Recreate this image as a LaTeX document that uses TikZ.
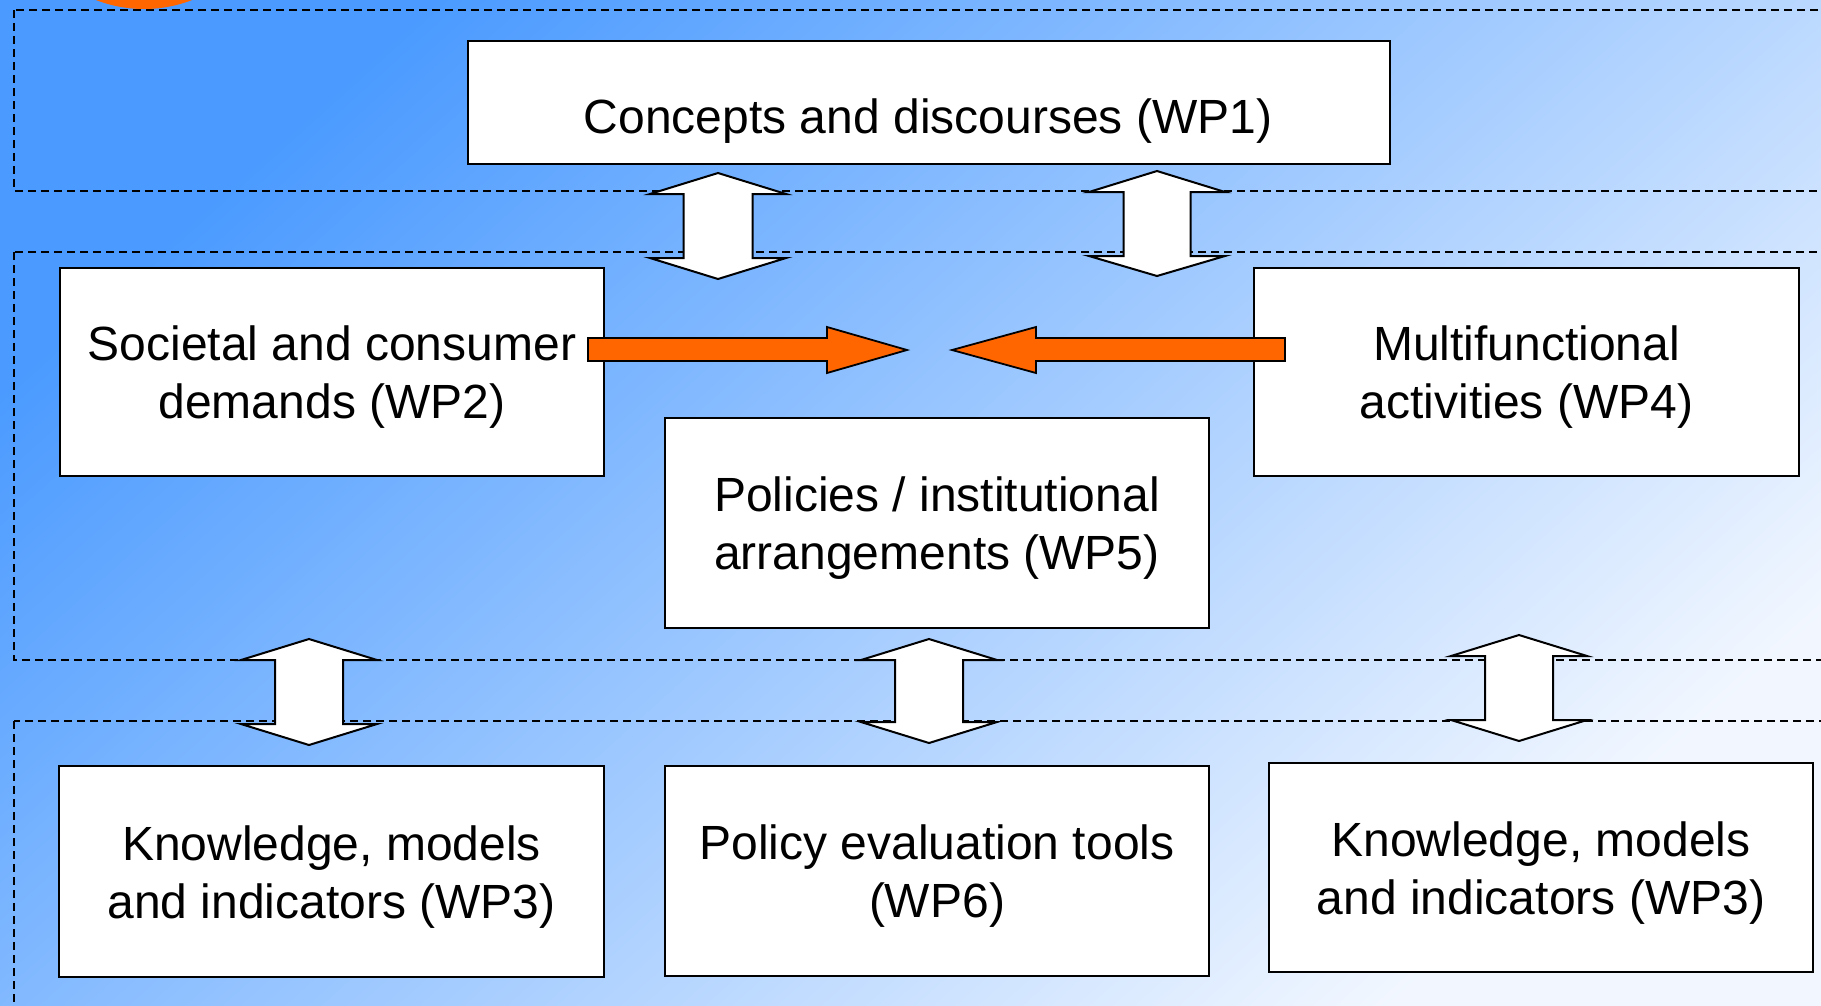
\documentclass[tikz,border=0pt]{standalone}
\usepackage{fontspec}
\setmainfont{Liberation Sans}
\definecolor{bgA}{HTML}{4A9AFF}
\definecolor{bgB}{HTML}{AECBFF}
\definecolor{bgC}{HTML}{F2F7FF}
\definecolor{orangeC}{HTML}{FF6600}
\newcommand\dblarrow[7]{%
  \draw[blockarrow] (#1,#2) -- ({#1-#6},#3) -- ({#1-#7},#3) -- ({#1-#7},#4) -- ({#1-#6},#4) -- (#1,#5)
    -- ({#1+#6},#4) -- ({#1+#7},#4) -- ({#1+#7},#3) -- ({#1+#6},#3) -- cycle;}
\begin{document}
\begin{tikzpicture}[x=1pt,y=-1pt,
  zone/.style={draw=black, line width=1.5pt, dash pattern=on 8pt off 5pt},
  box/.style={draw=black, fill=white, line width=2pt, inner sep=0pt, outer sep=0pt},
  lbl/.style={font=\fontsize{48}{58}\selectfont, align=center, inner sep=0pt, yshift=-5.5pt},
  blockarrow/.style={draw=black, fill=white, line width=2pt, line join=miter},
  orangearrow/.style={draw=black, fill=orangeC, line width=1.8pt, line join=miter}]
\useasboundingbox (0,0) rectangle (1821,1005);
\clip (0,0) rectangle (1821,1005);
\shade[top color=bgA, middle color=bgB, bottom color=bgC, shading angle=42] (0,0) rectangle (1821,1005);
\fill[orangeC] (144,-123.5) circle[radius=132.5pt];
% dashed zones
\draw[zone] (14,10) rectangle (1840,191);
\draw[zone] (14,252) rectangle (1840,660);
\draw[zone] (14,721) rectangle (1840,1030);
% boxes
\node[box, minimum width=922pt, minimum height=123pt] (wp1) at (929,102.5) {};
\node[lbl] (t1) at (928,116) {Concepts and discourses (WP1)};
\node[box, minimum width=544pt, minimum height=208pt] (wp2) at (332,372) {};
\node[lbl] (t2) at (wp2.center) {Societal and consumer\\demands (WP2)};
\node[box, minimum width=545pt, minimum height=208pt] (wp4) at (1526.5,372) {};
\node[lbl] (t4) at (wp4.center) {Multifunctional\\activities (WP4)};
\node[box, minimum width=544pt, minimum height=210pt] (wp5) at (937,523) {};
\node[lbl] (t5) at (wp5.center) {Policies / institutional\\arrangements (WP5)};
\node[box, minimum width=545pt, minimum height=211pt] (wp3a) at (331.5,871.5) {};
\node[lbl] (t3a) at (wp3a.center) {Knowledge, models\\and indicators (WP3)};
\node[box, minimum width=544pt, minimum height=210pt] (wp6) at (937,871) {};
\node[lbl] (t6) at (wp6.center) {Policy evaluation tools\\(WP6)};
\node[box, minimum width=544pt, minimum height=209pt] (wp3b) at (1541,867.5) {};
\node[lbl] (t3b) at (wp3b.center) {Knowledge, models\\and indicators (WP3)};
% double block arrows
\dblarrow{718}{173}{194}{258}{279}{68}{34.5}
\dblarrow{1157}{171}{192}{256}{276}{68}{33.5}
\dblarrow{309}{639}{660}{724}{745}{68}{34}
\dblarrow{929}{639}{660}{722}{743}{68}{34}
\dblarrow{1519}{635}{656}{720}{741}{68}{34}
% orange arrows
\draw[orangearrow] (588,338) -- (827,338) -- (827,327) -- (907,350) -- (827,373) -- (827,361) -- (588,361) -- cycle;
\draw[orangearrow] (1285,338) -- (1036,338) -- (1036,327) -- (952,350) -- (1036,373) -- (1036,361) -- (1285,361) -- cycle;
\end{tikzpicture}
\end{document}
